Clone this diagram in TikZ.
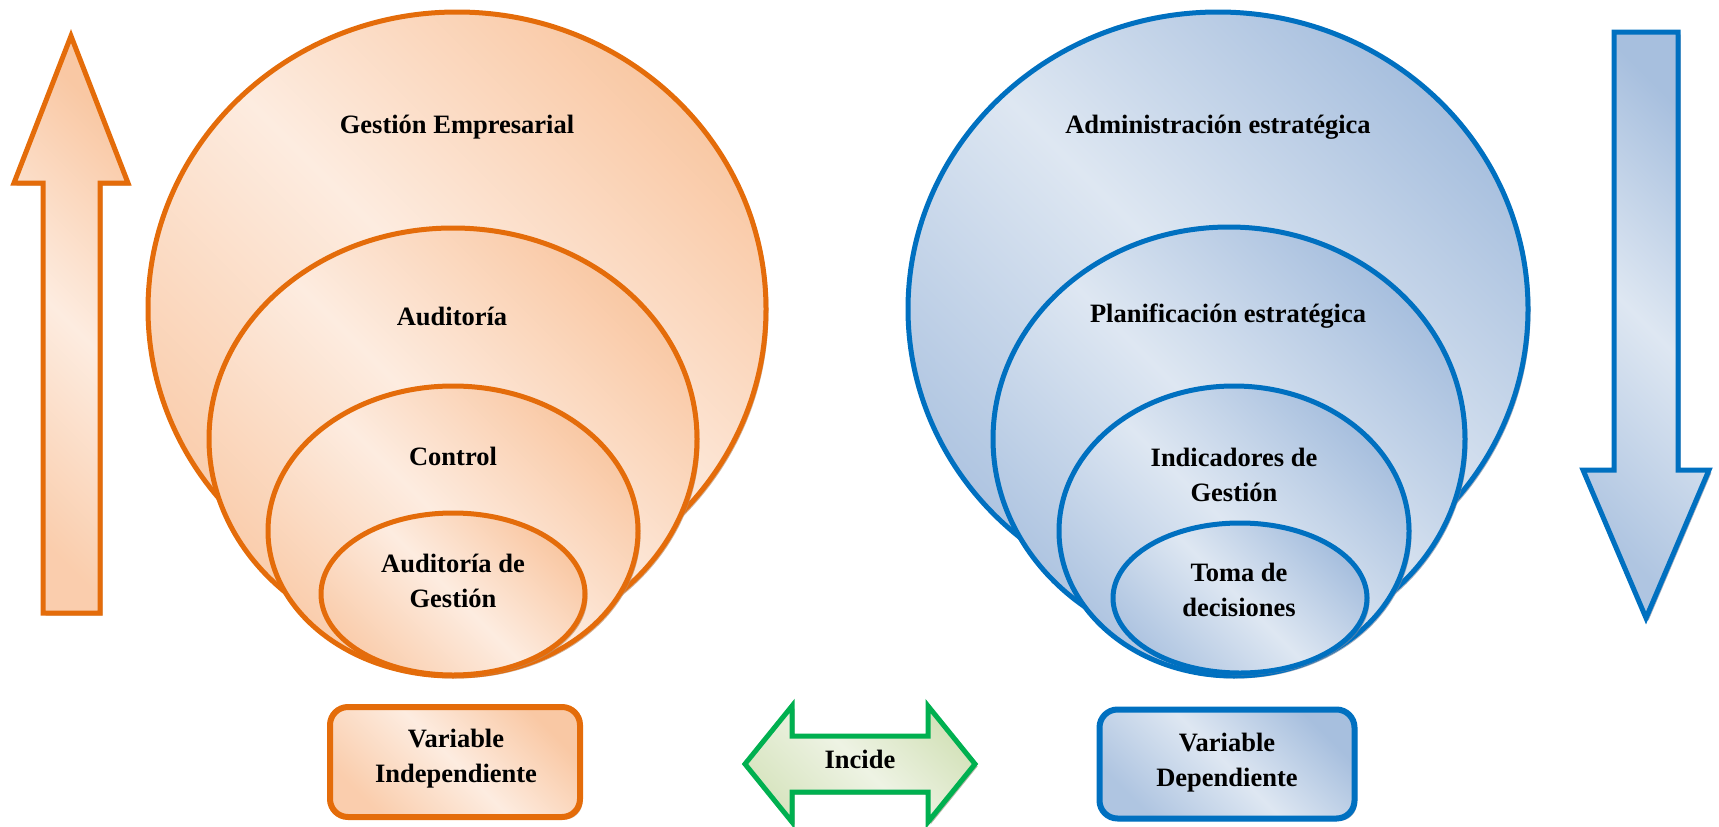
\documentclass[tikz,border=0pt]{standalone}
\usepackage{fontspec}
\setmainfont{Liberation Serif}
\usetikzlibrary{shapes.geometric,shadows}

% palette
\definecolor{oLine}{RGB}{228,108,10}
\definecolor{oDark}{RGB}{249,200,164}
\definecolor{oLight}{RGB}{253,236,224}
\definecolor{oShade}{RGB}{190,140,100}
\definecolor{bLine}{RGB}{0,112,192}
\definecolor{bDark}{RGB}{167,191,222}
\definecolor{bLight}{RGB}{222,231,242}
\definecolor{bShade}{RGB}{120,135,160}
\definecolor{gLine}{RGB}{0,176,80}
\definecolor{gDark}{RGB}{212,226,186}
\definecolor{gLight}{RGB}{238,243,228}
\definecolor{gShade}{RGB}{140,150,120}

\tikzset{
  orangefill/.style={draw=oLine, line width=5pt,
    top color=oDark, bottom color=oDark!85!oLight, middle color=oLight, shading angle=-45,
    drop shadow={shadow xshift=2.5pt, shadow yshift=-2.5pt, fill=oShade, opacity=0.7}},
  bluefill/.style={draw=bLine, line width=5pt,
    top color=bDark, bottom color=bDark!85!bLight, middle color=bLight, shading angle=-45,
    drop shadow={shadow xshift=2.5pt, shadow yshift=-2.5pt, fill=bShade, opacity=0.7}},
  greenfill/.style={draw=gLine, line width=5pt,
    top color=gDark, bottom color=gDark!85!gLight, middle color=gLight, shading angle=-45,
    drop shadow={shadow xshift=2.5pt, shadow yshift=-2.5pt, fill=gShade, opacity=0.7}},
  ring/.style={ellipse, inner sep=0pt, outer sep=0pt},
  panel/.style={rectangle, rounded corners=18pt, inner sep=0pt, line width=6pt},
  lbl/.style={font=\bfseries\fontsize{26.5}{35}\selectfont, align=center, anchor=base, inner sep=0pt}
}

\begin{document}
\begin{tikzpicture}[x=1pt,y=-1pt]
\useasboundingbox (0,0) rectangle (1719,827);

% upward arrow, left margin
\draw[orangefill] (71,36) -- (128,183) -- (100,183) -- (100,613) -- (43,613) -- (43,183) -- (14,183) -- cycle;

% downward arrow, right margin
\draw[bluefill] (1614,32) -- (1678,32) -- (1678,470) -- (1709,470) -- (1646,618) -- (1583,470) -- (1614,470) -- cycle;

% nested rings, independent variable (two-line labels anchor on their last line)
\node[ring, orangefill, minimum width=618pt, minimum height=594pt] (ge) at (457,309) {};
\node[ring, orangefill, minimum width=488pt, minimum height=422pt] (au) at (453,439) {};
\node[ring, orangefill, minimum width=370pt, minimum height=290pt] (co) at (453,531) {};
\node[ring, orangefill, minimum width=264pt, minimum height=162pt] (ag) at (453,594) {};

\node[lbl] (tge) at (457,133) {Gestión Empresarial};
\node[lbl] (tau) at (452,325) {Auditoría};
\node[lbl] (tco) at (453,465) {Control};
\node[lbl] (tag) at (453,607) {Auditoría de\\Gestión};

% nested rings, dependent variable
\node[ring, bluefill, minimum width=620pt, minimum height=594pt] (ae) at (1218,309) {};
\node[ring, bluefill, minimum width=472pt, minimum height=424pt] (pe) at (1229,439) {};
\node[ring, bluefill, minimum width=350pt, minimum height=290pt] (ig) at (1234,531) {};
\node[ring, bluefill, minimum width=254pt, minimum height=150pt] (td) at (1240,598) {};

\node[lbl] (tae) at (1218,133) {Administración estratégica};
\node[lbl] (tpe) at (1228,322) {Planificación estratégica};
\node[lbl] (tig) at (1234,501) {Indicadores de\\Gestión};
\node[lbl] (ttd) at (1239,616) {Toma de\\decisiones};

% variable panels
\node[panel, orangefill, line width=6pt, minimum width=250pt, minimum height=110pt] (vi) at (455,762) {};
\node[lbl] (tvi) at (456,782) {Variable\\Independiente};
\node[panel, bluefill, line width=6pt, minimum width=255pt, minimum height=109pt] (vd) at (1227,764) {};
\node[lbl] (tvd) at (1227,786) {Variable\\Dependiente};

% two-way arrow between the variables
\draw[greenfill] (745,764) -- (792,706) -- (792,736) -- (928,736) -- (928,706) -- (975,764)
  -- (928,822) -- (928,792) -- (792,792) -- (792,822) -- cycle;
\node[lbl] (inc) at (860,768) {Incide};
\end{tikzpicture}
\end{document}
